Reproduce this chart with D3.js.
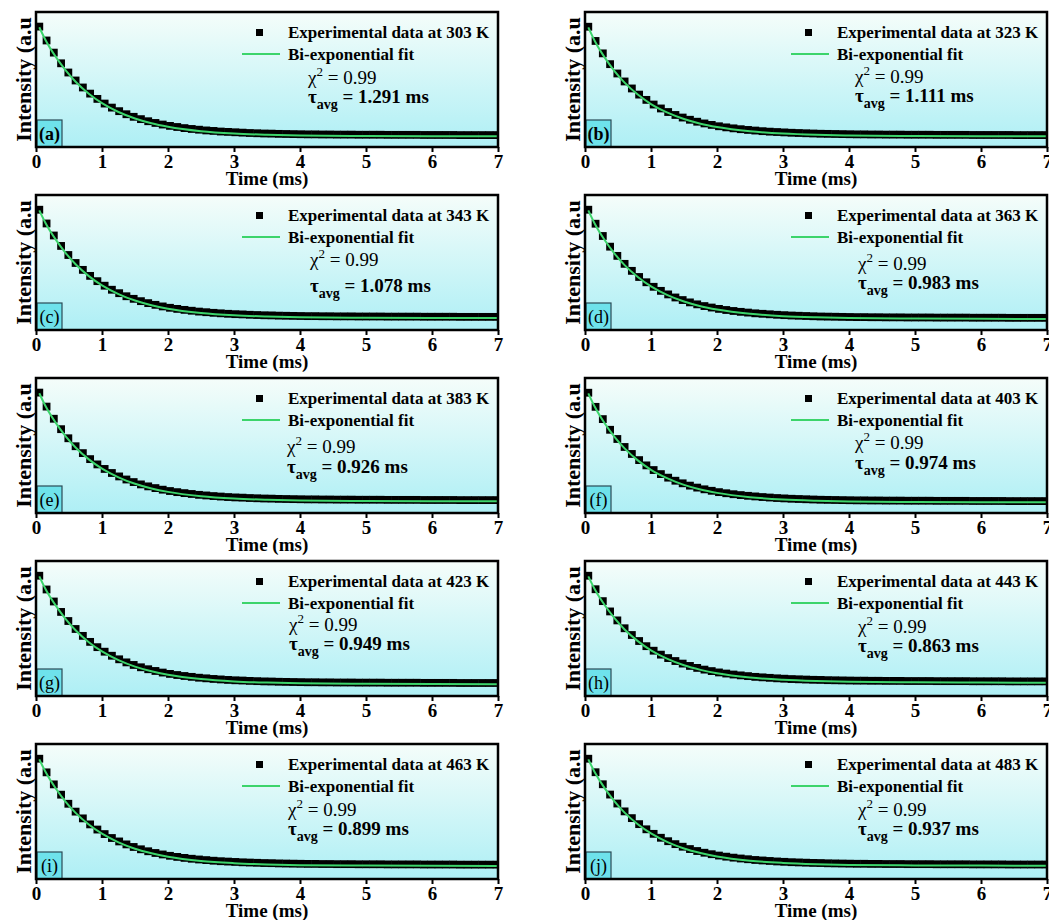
<!DOCTYPE html>
<html>
<head>
<meta charset="utf-8">
<script src="https://cdn.jsdelivr.net/npm/d3@7"></script>
<style>
  body { margin: 0; background: #fff; }
  text { font-family: "Liberation Serif", "Times New Roman", serif; }
</style>
</head>
<body>
<svg width="1049" height="920"></svg>
<script>
// shared time grid of the experimental points (ms)
var times = [0.05,0.16,0.27,0.38,0.49,0.60,0.71,0.82,0.93,1.04,1.15,1.26,1.37,1.48,1.59,1.70,1.81,1.92,2.03,2.14,2.25,2.36,2.47,2.58,2.69,2.80,2.91,3.02,3.13,3.24,3.35,3.46,3.57,3.68,3.79,3.90,4.01,4.12,4.23,4.34,4.45,4.56,4.67,4.78,4.89,5.00,5.11,5.22,5.33,5.44,5.55,5.66,5.77,5.88,5.99,6.10,6.21,6.32,6.43,6.54,6.65,6.76,6.87,6.98];
var fitTimes = [0.05,0.15,0.3,0.45,0.6,0.8,1.0,1.25,1.5,1.75,2.0,2.5,3.0,3.5,4.0,5.0,6.0,7.0];
var xTicks = [0,1,2,3,4,5,6,7];

var temps = [303,323,343,363,383,403,423,443,463,483];
var tauAvg = ["1.291","1.111","1.078","0.983","0.926","0.974","0.949","0.863","0.899","0.937"];
var chiSq = "0.99";
var tags = ["(a)","(b)","(c)","(d)","(e)","(f)","(g)","(h)","(i)","(j)"];

// normalised intensities
var int303 = [0.981,0.868,0.769,0.682,0.607,0.542,0.485,0.435,0.392,0.354,0.321,0.292,0.267,0.246,0.227,0.210,0.196,0.183,0.172,0.163,0.154,0.147,0.141,0.135,0.131,0.126,0.123,0.120,0.117,0.114,0.112,0.110,0.109,0.107,0.106,0.105,0.104,0.103,0.103,0.102,0.102,0.101,0.101,0.101,0.100,0.100,0.100,0.100,0.099,0.099,0.099,0.099,0.099,0.098,0.098,0.098,0.098,0.098,0.097,0.097,0.097,0.097,0.097,0.097];
var int323 = [0.980,0.864,0.763,0.675,0.599,0.534,0.477,0.427,0.384,0.346,0.314,0.285,0.261,0.240,0.222,0.206,0.192,0.180,0.169,0.160,0.152,0.145,0.139,0.134,0.129,0.125,0.122,0.119,0.116,0.114,0.112,0.110,0.108,0.107,0.106,0.105,0.104,0.103,0.103,0.102,0.102,0.101,0.101,0.101,0.100,0.100,0.100,0.100,0.099,0.099,0.099,0.099,0.099,0.098,0.098,0.098,0.098,0.098,0.098,0.097,0.097,0.097,0.097,0.097];
var int343 = [0.980,0.868,0.770,0.685,0.611,0.546,0.490,0.441,0.398,0.361,0.328,0.300,0.275,0.254,0.235,0.219,0.205,0.192,0.181,0.172,0.164,0.157,0.150,0.145,0.140,0.136,0.132,0.129,0.127,0.124,0.122,0.120,0.119,0.117,0.116,0.115,0.114,0.113,0.113,0.112,0.112,0.111,0.111,0.111,0.110,0.110,0.110,0.110,0.109,0.109,0.109,0.109,0.109,0.108,0.108,0.108,0.108,0.108,0.107,0.107,0.107,0.107,0.107,0.107];
var int363 = [0.980,0.866,0.766,0.679,0.604,0.539,0.482,0.432,0.389,0.352,0.319,0.290,0.265,0.244,0.225,0.209,0.195,0.183,0.172,0.163,0.155,0.148,0.142,0.136,0.132,0.128,0.124,0.121,0.118,0.116,0.114,0.112,0.110,0.109,0.108,0.107,0.106,0.105,0.105,0.104,0.104,0.103,0.103,0.103,0.102,0.102,0.102,0.102,0.101,0.101,0.101,0.101,0.101,0.100,0.100,0.100,0.100,0.100,0.099,0.099,0.099,0.099,0.099,0.099];
var int383 = [0.981,0.867,0.768,0.683,0.609,0.544,0.488,0.439,0.396,0.359,0.326,0.298,0.273,0.252,0.233,0.217,0.203,0.190,0.179,0.170,0.162,0.155,0.148,0.143,0.138,0.134,0.130,0.127,0.125,0.122,0.120,0.118,0.117,0.115,0.114,0.113,0.112,0.111,0.111,0.110,0.110,0.109,0.109,0.109,0.108,0.108,0.108,0.108,0.107,0.107,0.107,0.107,0.107,0.106,0.106,0.106,0.106,0.106,0.105,0.105,0.105,0.105,0.105,0.105];
var int403 = [0.980,0.865,0.765,0.678,0.603,0.538,0.481,0.431,0.388,0.350,0.317,0.288,0.263,0.242,0.223,0.207,0.193,0.181,0.170,0.161,0.153,0.146,0.140,0.135,0.130,0.126,0.122,0.119,0.116,0.114,0.112,0.110,0.108,0.107,0.106,0.105,0.104,0.103,0.103,0.102,0.102,0.101,0.101,0.101,0.100,0.100,0.100,0.100,0.099,0.099,0.099,0.099,0.099,0.098,0.098,0.098,0.098,0.098,0.097,0.097,0.097,0.097,0.097,0.097];
var int423 = [0.980,0.868,0.770,0.685,0.611,0.546,0.490,0.441,0.398,0.361,0.328,0.299,0.274,0.253,0.234,0.218,0.204,0.191,0.180,0.171,0.163,0.156,0.149,0.144,0.139,0.135,0.131,0.128,0.126,0.123,0.121,0.119,0.118,0.116,0.115,0.114,0.113,0.112,0.112,0.111,0.111,0.110,0.110,0.110,0.109,0.109,0.109,0.109,0.108,0.108,0.108,0.108,0.108,0.107,0.107,0.107,0.107,0.107,0.106,0.106,0.106,0.106,0.106,0.106];
var int443 = [0.980,0.870,0.773,0.689,0.616,0.552,0.497,0.448,0.406,0.369,0.337,0.309,0.285,0.264,0.245,0.229,0.215,0.203,0.192,0.183,0.175,0.168,0.162,0.156,0.152,0.148,0.144,0.141,0.138,0.136,0.134,0.132,0.131,0.129,0.128,0.127,0.126,0.125,0.125,0.124,0.124,0.123,0.123,0.123,0.122,0.122,0.122,0.122,0.121,0.121,0.121,0.121,0.121,0.120,0.120,0.120,0.120,0.120,0.119,0.119,0.119,0.119,0.119,0.119];
var int463 = [0.980,0.869,0.771,0.687,0.613,0.549,0.494,0.445,0.403,0.366,0.334,0.306,0.282,0.261,0.242,0.226,0.212,0.200,0.189,0.180,0.172,0.165,0.159,0.154,0.149,0.145,0.142,0.139,0.136,0.134,0.132,0.130,0.129,0.127,0.126,0.125,0.124,0.123,0.123,0.122,0.122,0.121,0.121,0.121,0.120,0.120,0.120,0.120,0.119,0.119,0.119,0.119,0.119,0.118,0.118,0.118,0.118,0.118,0.117,0.117,0.117,0.117,0.117,0.117];
var int483 = [0.980,0.870,0.772,0.688,0.615,0.551,0.496,0.447,0.405,0.368,0.336,0.308,0.284,0.263,0.244,0.228,0.214,0.202,0.191,0.182,0.174,0.167,0.161,0.155,0.151,0.147,0.143,0.140,0.137,0.135,0.133,0.131,0.130,0.128,0.127,0.126,0.125,0.124,0.124,0.123,0.123,0.122,0.122,0.122,0.121,0.121,0.121,0.121,0.120,0.120,0.120,0.120,0.120,0.119,0.119,0.119,0.119,0.119,0.118,0.118,0.118,0.118,0.118,0.118];

// bi-exponential fit curves
var fit303 = [0.976,0.866,0.734,0.624,0.532,0.434,0.357,0.285,0.232,0.193,0.165,0.129,0.110,0.100,0.094,0.090,0.088,0.087];
var fit323 = [0.975,0.862,0.728,0.617,0.525,0.427,0.350,0.280,0.228,0.190,0.163,0.128,0.109,0.099,0.094,0.090,0.088,0.087];
var fit343 = [0.975,0.866,0.736,0.627,0.536,0.439,0.364,0.293,0.240,0.202,0.174,0.139,0.120,0.110,0.104,0.100,0.098,0.097];
var fit363 = [0.975,0.864,0.731,0.621,0.529,0.432,0.355,0.284,0.232,0.194,0.167,0.132,0.113,0.103,0.097,0.093,0.091,0.090];
var fit383 = [0.976,0.865,0.734,0.625,0.534,0.437,0.362,0.291,0.238,0.200,0.172,0.137,0.118,0.108,0.102,0.098,0.096,0.095];
var fit403 = [0.975,0.863,0.729,0.619,0.527,0.429,0.352,0.282,0.229,0.191,0.164,0.129,0.110,0.100,0.094,0.090,0.088,0.087];
var fit423 = [0.975,0.866,0.736,0.627,0.536,0.438,0.363,0.292,0.239,0.201,0.173,0.138,0.119,0.109,0.103,0.099,0.097,0.096];
var fit443 = [0.975,0.868,0.739,0.632,0.542,0.447,0.372,0.302,0.250,0.213,0.185,0.150,0.132,0.122,0.116,0.112,0.110,0.108];
var fit463 = [0.975,0.867,0.737,0.629,0.539,0.444,0.369,0.299,0.247,0.210,0.182,0.147,0.129,0.119,0.113,0.109,0.107,0.106];
var fit483 = [0.975,0.868,0.738,0.631,0.541,0.446,0.371,0.301,0.249,0.212,0.184,0.149,0.131,0.121,0.115,0.111,0.109,0.107];

var values = [int303,int323,int343,int363,int383,int403,int423,int443,int463,int483];
var fits = [fit303,fit323,fit343,fit363,fit383,fit403,fit423,fit443,fit463,fit483];

// layout
var plotW = 462, plotH = 135, rowStep = 183, top0 = 12;
var colX = [36, 585];
var noteX = [272,270,274,273,251,270,253,273,252,273];
var chiY = [72,71,71,75,75,71,70,72,72,72];
var tauY = [91,90,97,94,95,91,89,91,91,91];
var greenFit = "#3cd46b";

var svg = d3.select("svg");
var x = d3.scaleLinear().domain([0, 7]).range([0, plotW]);
var y = d3.scaleLinear().domain([0, 1.1]).range([plotH, 0]);

var defs = svg.append("defs");
var grad = defs.append("linearGradient").attr("id", "bg")
    .attr("x1", 0).attr("y1", 0).attr("x2", 0).attr("y2", 1);
grad.append("stop").attr("offset", "0%").attr("stop-color", "#f5fdfa");
grad.append("stop").attr("offset", "100%").attr("stop-color", "#aeeff5");

var line = d3.line()
    .x(d => x(d[0]))
    .y(d => y(d[1]))
    .curve(d3.curveMonotoneX);

temps.forEach(function (temp, i) {
    var col = i % 2, row = Math.floor(i / 2);
    var g = svg.append("g")
        .attr("transform", "translate(" + colX[col] + "," + (top0 + row * rowStep) + ")");

    defs.append("clipPath").attr("id", "clip" + i)
        .append("rect").attr("width", plotW).attr("height", plotH);

    g.append("rect")
        .attr("width", plotW).attr("height", plotH)
        .attr("fill", "url(#bg)");

    // panel tag box
    g.append("rect")
        .attr("x", 1).attr("y", plotH - 27)
        .attr("width", 25).attr("height", 27)
        .attr("fill", "#6ee2eb")
        .attr("stroke", "#2a4a55").attr("stroke-width", 1.2);
    g.append("text")
        .attr("x", 13.5).attr("y", plotH - 7)
        .attr("text-anchor", "middle")
        .attr("font-size", 18)
        .attr("font-weight", i < 2 ? "bold" : "normal")
        .text(tags[i]);

    var plot = g.append("g").attr("clip-path", "url(#clip" + i + ")");
    plot.selectAll("rect.pt")
        .data(d3.zip(times, values[i]))
        .enter().append("rect")
        .attr("class", "pt")
        .attr("x", d => x(d[0]) - 3.9)
        .attr("y", d => y(d[1]) - 3.9)
        .attr("width", 7.8).attr("height", 7.8)
        .attr("fill", "#000");
    plot.append("path")
        .datum(d3.zip(fitTimes, fits[i]))
        .attr("d", line)
        .attr("fill", "none")
        .attr("stroke", greenFit)
        .attr("stroke-width", 2);

    // frame
    g.append("rect")
        .attr("width", plotW).attr("height", plotH)
        .attr("fill", "none")
        .attr("stroke", "#000").attr("stroke-width", 2.5);

    var ax = g.append("g")
        .attr("transform", "translate(0," + plotH + ")")
        .call(d3.axisBottom(x).tickValues(xTicks).tickSize(5).tickPadding(3).tickFormat(d3.format("d")));
    ax.select(".domain").remove();
    ax.selectAll("line").attr("stroke", "#000").attr("stroke-width", 2);
    ax.selectAll("text")
        .attr("fill", "#000")
        .attr("font-size", 19)
        .attr("font-weight", "bold")
        .attr("font-family", "'Liberation Serif', 'Times New Roman', serif");

    g.append("text")
        .attr("x", plotW / 2).attr("y", plotH + 38)
        .attr("text-anchor", "middle")
        .attr("font-size", 19).attr("font-weight", "bold")
        .text("Time (ms)");

    g.append("text")
        .attr("transform", "translate(-5," + (plotH / 2) + ") rotate(-90)")
        .attr("text-anchor", "middle")
        .attr("font-size", 22).attr("font-weight", "bold")
        .text("Intensity (a.u");

    // legend
    g.append("rect")
        .attr("x", 220).attr("y", 17)
        .attr("width", 7).attr("height", 7)
        .attr("fill", "#000");
    g.append("text")
        .attr("x", 252).attr("y", 26)
        .attr("font-size", 17).attr("font-weight", "bold")
        .text("Experimental data at " + temp + " K");
    g.append("line")
        .attr("x1", 206).attr("x2", 244)
        .attr("y1", 42).attr("y2", 42)
        .attr("stroke", greenFit).attr("stroke-width", 2);
    g.append("text")
        .attr("x", 252).attr("y", 48)
        .attr("font-size", 17).attr("font-weight", "bold")
        .text("Bi-exponential fit");

    // fit quality notes
    var chi = g.append("text")
        .attr("x", noteX[i]).attr("y", chiY[i])
        .attr("font-size", 19);
    chi.append("tspan").text("χ");
    chi.append("tspan").attr("dy", -8).attr("font-size", 13).text("2");
    chi.append("tspan").attr("dy", 8).text(" = " + chiSq);

    var tau = g.append("text")
        .attr("x", noteX[i]).attr("y", tauY[i])
        .attr("font-size", 19).attr("font-weight", "bold");
    tau.append("tspan").text("τ");
    tau.append("tspan").attr("dy", 6).attr("font-size", 14).text("avg");
    tau.append("tspan").attr("dy", -6).text(" = " + tauAvg[i] + " ms");
});
</script>
</body>
</html>
